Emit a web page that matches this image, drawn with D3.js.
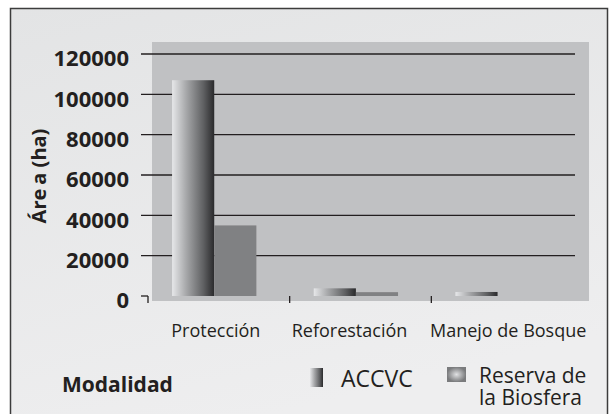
<!DOCTYPE html>
<html>
<head>
<meta charset="utf-8">
<script src="https://cdn.jsdelivr.net/npm/d3@7"></script>
<style>
  body { margin: 0; background: #fff; }
  text { font-family: "Open Sans", "Noto Sans", sans-serif; fill: #231f20; }
</style>
</head>
<body>
<div id="chart"></div>
<script>
const width = 609;
const height = 414;

const categories = ['Protección', 'Reforestación', 'Manejo de Bosque'];
const seriesNames = ['ACCVC', 'Reserva de la Biosfera'];
const accvc = [107000, 3800, 2000];
const reserva = [35000, 1900, 0];
const yTicks = [0, 20000, 40000, 60000, 80000, 100000, 120000];

const svg = d3.select('#chart')
              .append('svg')
              .attr('width', width)
              .attr('height', height);

const defs = svg.append('defs');

// frame background
let bg = defs.append('linearGradient')
             .attr('id', 'bg')
             .attr('x1', 0).attr('y1', 0).attr('x2', 0.35).attr('y2', 1);
bg.append('stop').attr('offset', '0%').attr('stop-color', '#e3e4e5');
bg.append('stop').attr('offset', '100%').attr('stop-color', '#eeeeef');

// ACCVC bar: light on left, dark on right
let g1 = defs.append('linearGradient').attr('id', 'accvc');
g1.append('stop').attr('offset', '0%').attr('stop-color', '#e6e7e9');
g1.append('stop').attr('offset', '35%').attr('stop-color', '#a4a5a7');
g1.append('stop').attr('offset', '75%').attr('stop-color', '#5e5f61');
g1.append('stop').attr('offset', '100%').attr('stop-color', '#2a2a2c');

// Reserva legend swatch: light centre
let g2 = defs.append('radialGradient').attr('id', 'reservaSw');
g2.append('stop').attr('offset', '0%').attr('stop-color', '#e0e1e3');
g2.append('stop').attr('offset', '100%').attr('stop-color', '#7a7b7d');

svg.append('rect')
   .attr('x', 10.5).attr('y', 8.5)
   .attr('width', 597).attr('height', 420)
   .attr('fill', 'url(#bg)')
   .attr('stroke', '#3c3c3c')
   .attr('stroke-width', 1.5);

// plot area
svg.append('rect')
   .attr('x', 152).attr('y', 42)
   .attr('width', 437).attr('height', 259)
   .attr('fill', '#c0c1c3');

const yScale = d3.scaleLinear().domain([0, 120000]).range([296, 54]);
const x0 = d3.scaleBand().domain(categories).range([148, 573]);
const x1 = d3.scaleBand().domain(seriesNames)
             .range([x0.bandwidth() * 0.17, x0.bandwidth() * 0.765]);

// y axis with gridlines
const yAxis = d3.axisLeft(yScale)
                .tickValues(yTicks)
                .tickSize(0)
                .tickPadding(0)
                .tickFormat(d3.format('d'));
let yg = svg.append('g')
            .attr('id', 'y-axis')
            .attr('transform', 'translate(129,0)')
            .call(yAxis);
yg.select('.domain').remove();
yg.selectAll('text')
  .attr('font-size', 22)
  .attr('font-weight', 'bold')
  .attr('dy', '0.72em')
  .attr('y', -4)
  .attr('fill', '#231f20')
  .style('font-family', '"Open Sans", sans-serif');

svg.append('g')
   .selectAll('line')
   .data(yTicks)
   .enter()
   .append('line')
   .attr('x1', 141)
   .attr('x2', d => d === 0 ? 148 : 575)
   .attr('y1', d => yScale(d))
   .attr('y2', d => yScale(d))
   .attr('stroke', '#231f20')
   .attr('stroke-width', 1.3);

// bars
let groups = svg.append('g')
                .selectAll('g')
                .data(categories)
                .enter()
                .append('g')
                .attr('transform', d => 'translate(' + x0(d) + ',0)');

groups.append('rect')
      .attr('x', x1('ACCVC'))
      .attr('y', (d, i) => yScale(accvc[i]))
      .attr('width', x1.bandwidth())
      .attr('height', (d, i) => yScale(0) - yScale(accvc[i]))
      .attr('fill', 'url(#accvc)');

groups.append('rect')
      .attr('x', x1('Reserva de la Biosfera'))
      .attr('y', (d, i) => yScale(reserva[i]))
      .attr('width', x1.bandwidth())
      .attr('height', (d, i) => yScale(0) - yScale(reserva[i]))
      .attr('fill', '#808183');

// x axis ticks (category boundaries)
svg.append('g')
   .selectAll('line')
   .data(categories)
   .enter()
   .append('line')
   .attr('x1', d => x0(d))
   .attr('x2', d => x0(d))
   .attr('y1', 296)
   .attr('y2', 303)
   .attr('stroke', '#231f20')
   .attr('stroke-width', 1.3);

const labelShift = [-3, -11, 6];
svg.append('g')
   .selectAll('text')
   .data(categories)
   .enter()
   .append('text')
   .attr('x', (d, i) => x0(d) + x0.bandwidth() / 2 + labelShift[i])
   .attr('y', 337)
   .attr('text-anchor', 'middle')
   .attr('font-size', 18)
   .text(d => d);

// axis titles
svg.append('text')
   .attr('transform', 'translate(46,176) rotate(-90)')
   .attr('text-anchor', 'middle')
   .attr('font-size', 20)
   .attr('font-weight', 'bold')
   .text('Áre')
   .append('tspan')
   .attr('dx', 4)
   .text('a (ha)');

svg.append('text')
   .attr('x', 62)
   .attr('y', 392)
   .attr('font-size', 21)
   .attr('font-weight', 'bold')
   .text('Modalidad');

// legend
svg.append('rect')
   .attr('x', 310).attr('y', 368)
   .attr('width', 13).attr('height', 19)
   .attr('fill', 'url(#accvc)');
svg.append('text')
   .attr('x', 341).attr('y', 387)
   .attr('font-size', 23)
   .text('ACCVC');

svg.append('rect')
   .attr('x', 447).attr('y', 367)
   .attr('width', 19).attr('height', 15)
   .attr('fill', 'url(#reservaSw)');
let leg2 = svg.append('text')
              .attr('x', 479).attr('y', 383)
              .attr('font-size', 21);
leg2.append('tspan').attr('x', 479).text('Reserva de');
leg2.append('tspan').attr('x', 479).attr('dy', 22).text('la Biosfera');
</script>
</body>
</html>
